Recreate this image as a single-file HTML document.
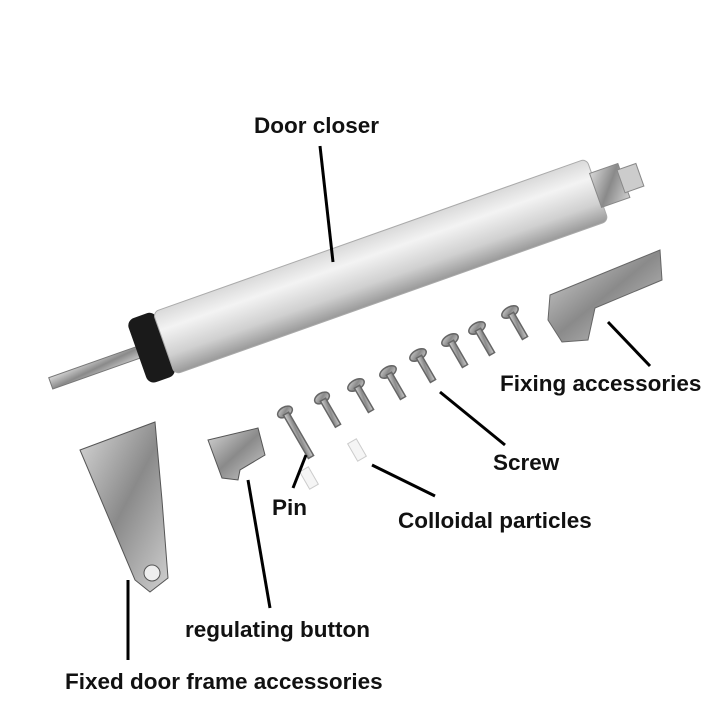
<!DOCTYPE html>
<html><head><meta charset="utf-8"><style>
html,body{margin:0;padding:0;background:#fff;}
svg{display:block}
text{font-family:"Liberation Sans",Arial,sans-serif;font-weight:bold;font-size:22.5px;fill:#111}
</style></head><body>
<svg width="713" height="713" viewBox="0 0 713 713">
<defs>
<linearGradient id="cyl" x1="0" y1="0" x2="0" y2="1">
<stop offset="0" stop-color="#d9d9d9"/><stop offset="0.3" stop-color="#f3f3f3"/><stop offset="0.7" stop-color="#d0d0d0"/><stop offset="1" stop-color="#999"/></linearGradient>
<linearGradient id="met" x1="0" y1="0" x2="1" y2="1">
<stop offset="0" stop-color="#d8d8d8"/><stop offset="0.5" stop-color="#8a8a8a"/><stop offset="1" stop-color="#cfcfcf"/></linearGradient>
</defs>
<g transform="translate(145,350) rotate(-19.5)">
<rect x="-100" y="-6" width="110" height="12" fill="url(#met)" stroke="#777"/>
<rect x="-8" y="-34" width="30" height="68" rx="8" fill="#1a1a1a"/>
<rect x="20" y="-33" width="460" height="66" rx="6" fill="url(#cyl)" stroke="#aaa"/>
<rect x="478" y="-18" width="30" height="36" fill="url(#met)" stroke="#888"/>
<rect x="505" y="-12" width="20" height="24" fill="#ccc" stroke="#888"/>
</g>
<path d="M550 295 L660 250 L662 280 L595 308 L588 340 L562 342 L548 320 Z" fill="url(#met)" stroke="#666"/>
<g fill="url(#met)" stroke="#666" stroke-width="1.5">
<g transform="translate(510,312) rotate(-30)"><ellipse rx="9" ry="5"/><rect x="-3" y="2" width="6" height="28"/></g>
<g transform="translate(477,328) rotate(-30)"><ellipse rx="9" ry="5"/><rect x="-3" y="2" width="6" height="28"/></g>
<g transform="translate(450,340) rotate(-30)"><ellipse rx="9" ry="5"/><rect x="-3" y="2" width="6" height="28"/></g>
<g transform="translate(418,355) rotate(-30)"><ellipse rx="9" ry="5"/><rect x="-3" y="2" width="6" height="28"/></g>
<g transform="translate(388,372) rotate(-30)"><ellipse rx="9" ry="5"/><rect x="-3" y="2" width="6" height="28"/></g>
<g transform="translate(356,385) rotate(-30)"><ellipse rx="9" ry="5"/><rect x="-3" y="2" width="6" height="28"/></g>
<g transform="translate(322,398) rotate(-30)"><ellipse rx="8" ry="5"/><rect x="-3" y="2" width="6" height="30"/></g>
<g transform="translate(285,412) rotate(-30)"><ellipse rx="8" ry="5"/><rect x="-3" y="2" width="6" height="50"/></g>
</g>
<rect x="352" y="440" width="10" height="20" fill="#f5f5f5" stroke="#ccc" transform="rotate(-30 357 450)"/>
<rect x="304" y="468" width="10" height="20" fill="#f5f5f5" stroke="#ccc" transform="rotate(-30 309 478)"/>
<path d="M208 440 L258 428 L265 455 L240 470 L238 480 L222 478 Z" fill="url(#met)" stroke="#555"/>
<path d="M80 450 L155 422 L162 500 L168 578 L150 592 L135 580 Z" fill="url(#met)" stroke="#555"/>
<circle cx="152" cy="573" r="8" fill="#eee" stroke="#555"/>
<g stroke="#000" stroke-width="3">
<line x1="320" y1="146" x2="333" y2="262"/>
<line x1="608" y1="322" x2="650" y2="366"/>
<line x1="440" y1="392" x2="505" y2="445"/>
<line x1="306" y1="455" x2="293" y2="488"/>
<line x1="372" y1="465" x2="435" y2="496"/>
<line x1="248" y1="480" x2="270" y2="608"/>
<line x1="128" y1="580" x2="128" y2="660"/>
</g>
<text x="254" y="133">Door closer</text>
<text x="500" y="391">Fixing accessories</text>
<text x="493" y="470">Screw</text>
<text x="272" y="515">Pin</text>
<text x="398" y="528">Colloidal particles</text>
<text x="185" y="637">regulating button</text>
<text x="65" y="689">Fixed door frame accessories</text>
</svg>
</body></html>
